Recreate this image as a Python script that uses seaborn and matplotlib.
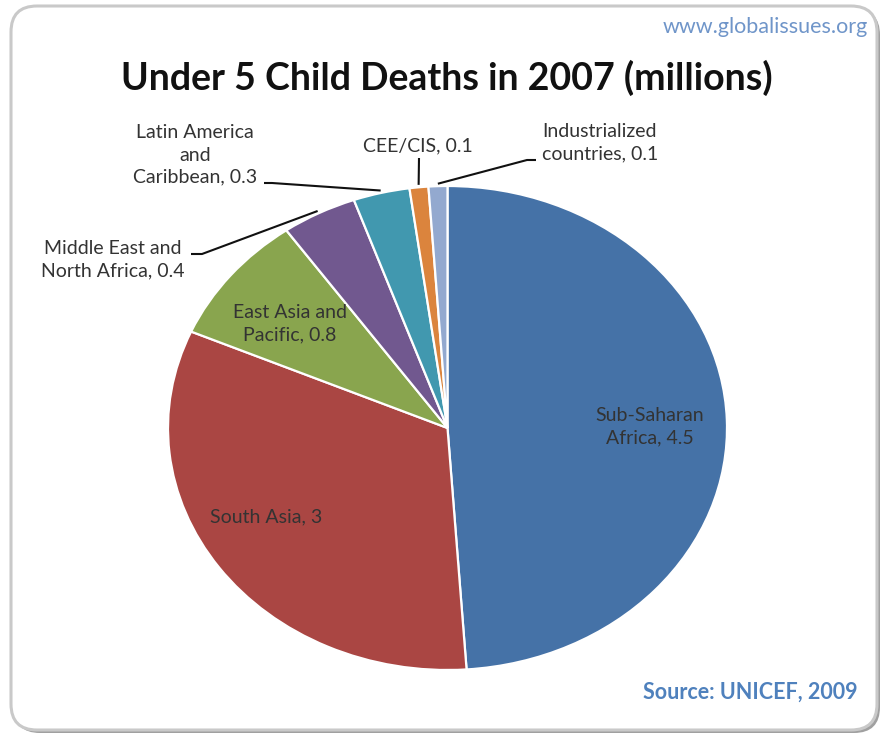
import matplotlib
matplotlib.use("Agg")
import numpy as np
import matplotlib.pyplot as plt
import seaborn as sns
from matplotlib.patches import FancyBboxPatch

# Under-5 child deaths in 2007, millions (UNICEF 2009)
regions = ["Sub-Saharan\nAfrica", "South Asia", "East Asia and\nPacific",
           "Middle East and\nNorth Africa", "Latin America\nand\nCaribbean",
           "CEE/CIS", "Industrialized\ncountries"]
deaths = [4.5, 3, 0.8, 0.4, 0.3, 0.1, 0.1]
colors = ["#4572A7", "#AA4643", "#89A54E", "#71588F", "#4198AF", "#DB843D", "#93A9CF"]

title = "Under 5 Child Deaths in 2007 (millions)"
site = "www.globalissues.org"
source = "Source: UNICEF, 2009"

sns.set_theme(style="white")
plt.rcParams["font.family"] = ["Lato", "DejaVu Sans"]

W, H = 882, 735
fig = plt.figure(figsize=(W / 100, H / 100), dpi=100)
fig.patch.set_facecolor("white")

# background layer in pixel coordinates (frame)
bg = fig.add_axes([0, 0, 1, 1], zorder=0)
bg.set_xlim(0, W)
bg.set_ylim(H, 0)
bg.axis("off")
bg.add_patch(FancyBboxPatch((14, 9), 866, 724, boxstyle="round,pad=0,rounding_size=26",
                            facecolor="#a0a0a0", edgecolor="none"))
bg.add_patch(FancyBboxPatch((11, 6), 866, 724, boxstyle="round,pad=0,rounding_size=26",
                            facecolor="white", edgecolor="#c9c9c9", linewidth=2.2))

# pie (slightly wider than tall)
pie_box = (168, 186, 727, 670)  # left, top, right, bottom in pixels
pax = fig.add_axes([pie_box[0] / W, 1 - pie_box[3] / H,
                    (pie_box[2] - pie_box[0]) / W, (pie_box[3] - pie_box[1]) / H], zorder=1)
wedges, _ = pax.pie(deaths, colors=colors, startangle=90, counterclock=False, radius=1,
                    wedgeprops=dict(edgecolor="white", linewidth=1.6))
pax.set_aspect("auto")
pax.set_xlim(-1, 1)
pax.set_ylim(-1, 1)
pax.axis("off")

# annotation layer in pixel coordinates
ann = fig.add_axes([0, 0, 1, 1], zorder=2)
ann.set_xlim(0, W)
ann.set_ylim(H, 0)
ann.axis("off")
ann.patch.set_alpha(0)

to_px = pax.transData + ann.transData.inverted()

label_pos = [(650, 427), (266, 517), (290, 324), (113, 260), (195, 155), (418, 146), (600, 143)]
leaders = [None, None, None,
           [(191, 254), (202, 254)],
           [(264, 183), (272, 183)],
           [(419, 158)],
           [(536, 160), (527, 160)]]
txt_color = "#333333"

for w, reg, val, pos, lead in zip(wedges, regions, deaths, label_pos, leaders):
    ann.text(pos[0], pos[1], f"{reg}, {val:g}", ha="center", va="center",
             fontsize=14, color=txt_color, linespacing=1.38)
    if lead is not None:
        mid = np.deg2rad((w.theta1 + w.theta2) / 2)
        end = to_px.transform((np.cos(mid) * 1.01, np.sin(mid) * 1.01))
        pts = np.array(lead + [tuple(end)])
        ann.plot(pts[:, 0], pts[:, 1], color="#111111", lw=1.5, solid_capstyle="butt")

ann.text(447, 78, title, ha="center", va="center", fontsize=27, fontweight="bold", color="#111111")
ann.text(868, 27, site, ha="right", va="center", fontsize=15.5, color="#6F95C9")
ann.text(858, 692, source, ha="right", va="center", fontsize=15.5, fontweight="bold", color="#4F81BD")

fig.savefig("out.png", dpi=100, facecolor="white")
